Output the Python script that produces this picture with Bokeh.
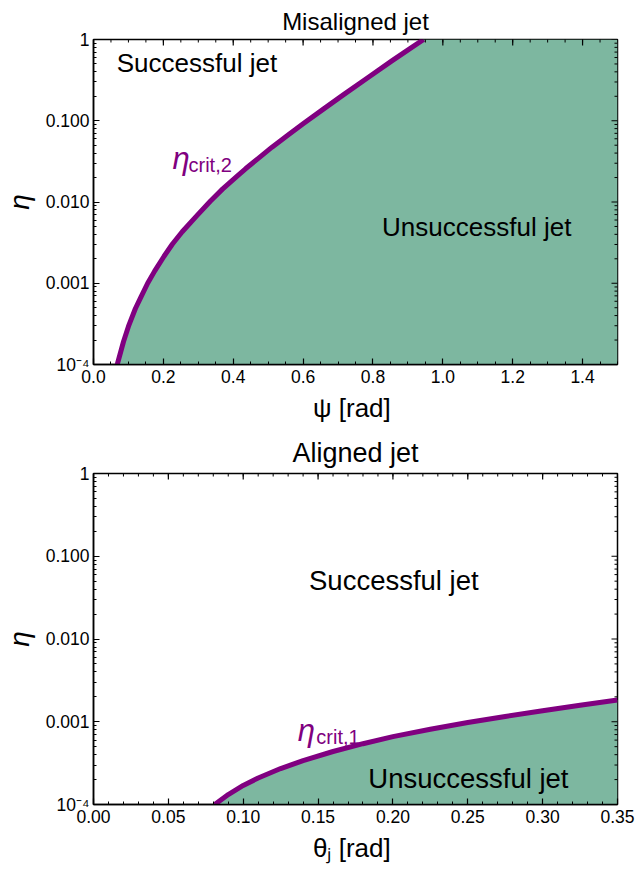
import numpy as np
from bokeh.plotting import figure
from bokeh.models import FixedTicker, Label, Range1d
from bokeh.layouts import column
from bokeh.embed import file_html
from bokeh.resources import INLINE

# ---------------- data ----------------
psi = [0.068, 0.075, 0.086, 0.10, 0.12, 0.135, 0.155, 0.175, 0.202, 0.226, 0.254,
       0.296, 0.335, 0.370, 0.408, 0.436, 0.47, 0.511, 0.557, 0.602, 0.659, 0.715,
       0.786, 0.854, 0.908, 0.945]
eta_crit2 = [1.0e-4, 1.29e-4, 1.92e-4, 2.94e-4, 4.89e-4, 6.64e-4, 1.0e-3, 1.41e-3,
             2.15e-3, 3.04e-3, 4.30e-3, 6.81e-3, 1.03e-2, 1.45e-2, 2.03e-2, 2.58e-2,
             3.40e-2, 4.73e-2, 6.67e-2, 9.31e-2, 0.140, 0.208, 0.340, 0.546, 0.782, 1.0]

theta_j = [0.081, 0.09, 0.10, 0.11, 0.125, 0.14, 0.16, 0.18, 0.20, 0.225,
           0.25, 0.275, 0.30, 0.325, 0.35]
eta_crit1 = [1.0e-4, 1.32e-4, 1.70e-4, 2.09e-4, 2.72e-4, 3.39e-4, 4.37e-4,
             5.43e-4, 6.61e-4, 8.13e-4, 9.77e-4, 1.16e-3, 1.36e-3, 1.58e-3, 1.83e-3]

y_ticks = [1e-4, 1e-3, 1e-2, 1e-1, 1.0]
y_tick_labels = ["10⁻⁴", "0.001", "0.010", "0.100", "1"]
y_minor = [m * 10.0 ** e for e in range(-4, 0) for m in range(2, 10)]

top_x_ticks = [0.0, 0.2, 0.4, 0.6, 0.8, 1.0, 1.2, 1.4]
top_x_labels = ["0.0", "0.2", "0.4", "0.6", "0.8", "1.0", "1.2", "1.4"]
top_x_minor = [round(0.05 * i, 2) for i in range(0, 31)]

bot_x_ticks = [0.0, 0.05, 0.10, 0.15, 0.20, 0.25, 0.30, 0.35]
bot_x_labels = ["0.00", "0.05", "0.10", "0.15", "0.20", "0.25", "0.30", "0.35"]
bot_x_minor = [round(0.01 * i, 2) for i in range(0, 36)]

top_xlim = (0.0, 1.5)
bot_xlim = (0.0, 0.35)
ylim = (1e-4, 1.0)

FILL = "#7DB7A0"
PURPLE = "#800080"
FONT = "Liberation Sans"


def style_axis(ax, ticks, minor, labels):
    ax.ticker = FixedTicker(ticks=ticks, minor_ticks=minor)
    ax.axis_line_color = "black"
    ax.axis_line_width = 1.5
    ax.major_tick_line_color = "black"
    ax.minor_tick_line_color = "black"
    ax.major_tick_line_width = 1.2
    ax.minor_tick_line_width = 1.0
    ax.major_tick_in = 6
    ax.major_tick_out = 0
    ax.minor_tick_in = 3
    ax.minor_tick_out = 0
    ax.major_label_text_font = FONT
    ax.major_label_text_font_size = "17.5px"
    ax.major_label_text_color = "black"
    ax.major_label_overrides = {t: l for t, l in zip(ticks, labels)}


def add_text(p, x, y, text, size, color="black", style="normal", align="center",
             baseline="middle"):
    p.add_layout(Label(x=x, y=y, text=text, text_font=FONT, text_font_size=size,
                       text_color=color, text_font_style=style, text_align=align,
                       text_baseline=baseline))


def make_panel(title, tsize, tstand, xlim, xticks, xlabels, xminor, xs, ys, h,
               borders):
    p = figure(width=637, height=h, x_range=Range1d(*xlim), y_range=Range1d(*ylim),
               y_axis_type="log", output_backend="svg", toolbar_location=None,
               min_border_left=borders[0], min_border_right=borders[1],
               min_border_top=borders[2], min_border_bottom=borders[3])
    p.xgrid.visible = False
    p.ygrid.visible = False
    p.outline_line_color = "black"
    p.outline_line_width = 1.5
    p.background_fill_color = "white"
    p.border_fill_color = "white"

    p.title.text = title
    p.title.align = "center"
    p.title.text_font = FONT
    p.title.text_font_size = tsize
    p.title.text_font_style = "normal"
    p.title.text_color = "black"
    p.title.standoff = tstand

    style_axis(p.xaxis[0], xticks, xminor, xlabels)
    style_axis(p.yaxis[0], y_ticks, y_minor, y_tick_labels)
    p.xaxis[0].major_label_standoff = 5
    p.yaxis[0].major_label_standoff = 4

    # unsuccessful region below the curve
    px = list(xs) + [xlim[1], xlim[1]]
    top_y = ylim[1] if ys[-1] >= ylim[1] else ys[-1]
    py = list(ys) + [top_y, ylim[0]]
    p.patch(px, py, fill_color=FILL, line_color=None)
    p.line(xs, ys, line_color=PURPLE, line_width=5, line_join="round")

    # inward frame ticks on the top and right edges (half of each dash is clipped)
    p.scatter(xticks, [ylim[1]] * len(xticks), marker="dash", angle=np.pi / 2,
              size=12, line_color="black", line_width=1.2)
    p.scatter(xminor, [ylim[1]] * len(xminor), marker="dash", angle=np.pi / 2,
              size=6, line_color="black", line_width=1.0)
    p.scatter([xlim[1]] * len(y_ticks), y_ticks, marker="dash",
              size=12, line_color="black", line_width=1.2)
    p.scatter([xlim[1]] * len(y_minor), y_minor, marker="dash",
              size=6, line_color="black", line_width=1.0)
    return p


top = make_panel("Misaligned jet", "24px", 9, top_xlim, top_x_ticks,
                 top_x_labels, top_x_minor, psi, eta_crit2, 425, (93, 17, 39, 60))
bot = make_panel("Aligned jet", "27px", 11, bot_xlim, bot_x_ticks,
                 bot_x_labels, bot_x_minor, theta_j, eta_crit1, 446, (83, 20, 48, 67))

for p in (top, bot):
    p.yaxis[0].axis_label = "η"
    p.yaxis[0].axis_label_text_font = FONT
    p.yaxis[0].axis_label_text_font_size = "28px"
    p.yaxis[0].axis_label_text_font_style = "italic"
    p.yaxis[0].axis_label_text_color = "black"
    p.yaxis[0].axis_label_standoff = 8

top.xaxis[0].axis_label = "ψ  [rad]"
bot.xaxis[0].axis_label = "θⱼ  [rad]"
for p in (top, bot):
    p.xaxis[0].axis_label_text_font = FONT
    p.xaxis[0].axis_label_text_font_size = "26px"
    p.xaxis[0].axis_label_text_font_style = "normal"
    p.xaxis[0].axis_label_text_color = "black"
    p.xaxis[0].axis_label_standoff = 7

add_text(top, 0.296, 0.51, "Successful jet", "26px")
add_text(top, 1.097, 0.0049, "Unsuccessful jet", "26px")
add_text(top, 0.226, 0.0347, "η", "31px", PURPLE, "italic", "left", "alphabetic")
add_text(top, 0.272, 0.0284, "crit,2", "20px", PURPLE, "normal", "left", "alphabetic")

add_text(bot, 0.2006, 0.051, "Successful jet", "27.5px")
add_text(bot, 0.2504, 2.08e-4, "Unsuccessful jet", "27.5px")
add_text(bot, 0.1365, 7.9e-4, "η", "31px", PURPLE, "italic", "left", "alphabetic")
add_text(bot, 0.1488, 6.6e-4, "crit,1", "20px", PURPLE, "normal", "left", "alphabetic")

layout = column(top, bot, spacing=0)
open("out.html", "w").write(file_html(layout, INLINE))
